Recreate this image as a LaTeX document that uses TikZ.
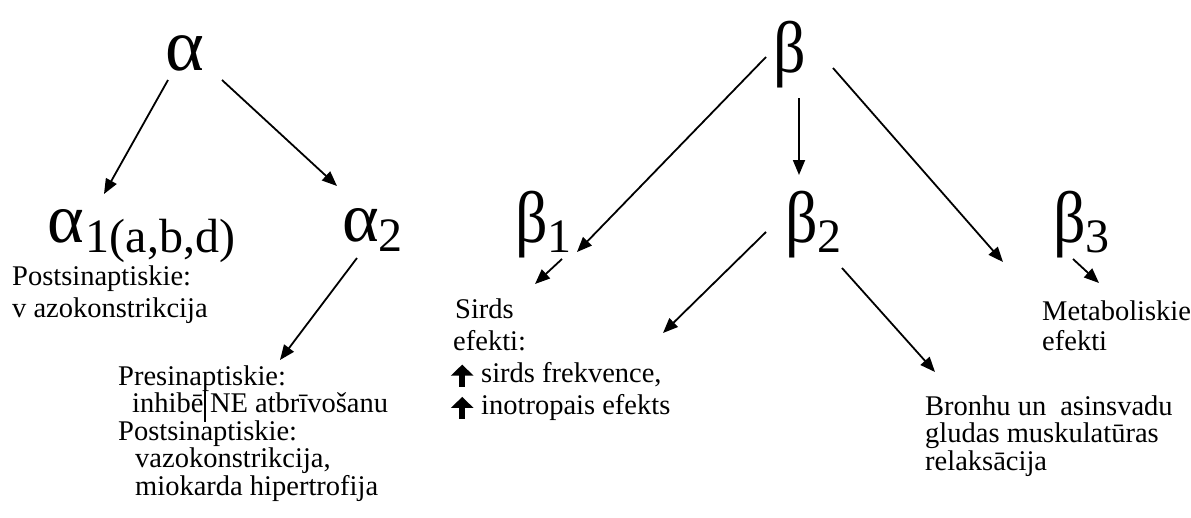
\documentclass[tikz,border=0pt]{standalone}
\usepackage{fontspec}
\setmainfont{Liberation Serif}
\usetikzlibrary{arrows.meta}
\newcommand{\upglyph}{\tikz[baseline=0pt,x=1pt,y=1pt]\draw[line width=6pt,-{Triangle[length=11pt,width=22pt]}] (0,-4)--(0,18);}
\newcommand{\grsub}[1]{\raisebox{-10pt}{\fontsize{48}{48}\selectfont #1}}
\newcommand{\tallb}{\scalebox{1}[1.14]{β}}
\newcommand{\Lines}[2]{\vtop{\baselineskip=#1\lineskiplimit=-100pt\relax\halign{##\hfil\cr#2\crcr}}}
\begin{document}
\begin{tikzpicture}[x=1pt,y=-1pt,
  greek/.style={anchor=base west,inner sep=0pt,font=\fontsize{64}{64}\selectfont},
  greeka/.style={anchor=base west,inner sep=0pt,font=\fontsize{70}{70}\selectfont},
  txt/.style={anchor=base west,inner sep=0pt,font=\fontsize{28.5}{32}\selectfont},
  arr/.style={line width=1.8pt,-{Triangle[length=15pt,width=12pt]}}]
\useasboundingbox (0,0) rectangle (1191,517);
% Greek headers
\node[greeka,font=\fontsize{74}{74}\selectfont] (alpha) at (165,70) {α};
\node[greek] (beta) at (773,72) {\tallb};
\node[greeka] (alpha1) at (47,242) {α\kern2pt\grsub{1(a,b,d)}};
\node[greeka] (alpha2) at (342,241) {α\grsub{2}};
\node[greek] (beta1) at (515,242) {\tallb\grsub{1}};
\node[greek] (beta2) at (785,242) {\tallb\grsub{2}};
\node[greek] (beta3) at (1053,242) {\tallb\grsub{3}};
% text blocks
\node[txt] (postA) at (12,285) {\Lines{32pt}{Postsinaptiskie:\cr v azokonstrikcija}};
\node[txt] (presB) at (118,385) {\Lines{27.5pt}{Presinaptiskie:\cr
  \kern14pt inhibē\kern1pt\rule[-9pt]{1.6pt}{31pt}\kern4pt NE atbrīvošanu\cr
  Postsinaptiskie:\cr
  \kern17pt vazokonstrikcija,\cr
  \kern17pt miokarda hipertrofija}};
\node[txt] (sirds) at (451,318) {\Lines{32.3pt}{\kern4pt Sirds\cr
  \kern2pt efekti:\cr
  \upglyph\kern8pt sirds frekvence,\cr
  \upglyph\kern8pt inotropais efekts}};
\node[txt] (metab) at (1042,320) {\Lines{30pt}{Metaboliskie\cr efekti}};
\node[txt] (bronhu) at (925,415) {\Lines{27.5pt}{Bronhu un\kern14pt asinsvadu\cr gludas muskulatūras\cr relaksācija}};
% connector end points
\coordinate (a-l) at (168,80);   \coordinate (a1-in) at (104,194);
\coordinate (a-r) at (222,80);   \coordinate (a2-in) at (337,186);
\coordinate (b-l) at (766,57);   \coordinate (b1-in) at (577,252);
\coordinate (b-m) at (799,98);   \coordinate (b2-in) at (799,175);
\coordinate (b-r) at (833,68);   \coordinate (b3-in) at (1003,262);
\coordinate (b1-o) at (562,259); \coordinate (sirds-in1) at (535,284);
\coordinate (b2-ol) at (766,232);\coordinate (sirds-in2) at (663,333);
\coordinate (b2-or) at (842,268);\coordinate (bronhu-in) at (935,372);
\coordinate (b3-o) at (1073,259);\coordinate (metab-in) at (1099,283);
\coordinate (a2-o) at (357,258); \coordinate (presB-in) at (280,360);
\draw[arr] (a-l) -- (a1-in);
\draw[arr] (a-r) -- (a2-in);
\draw[arr] (b-l) -- (b1-in);
\draw[arr] (b-m) -- (b2-in);
\draw[arr] (b-r) -- (b3-in);
\draw[arr] (b1-o) -- (sirds-in1);
\draw[arr] (b2-ol) -- (sirds-in2);
\draw[arr] (b2-or) -- (bronhu-in);
\draw[arr] (b3-o) -- (metab-in);
\draw[arr] (a2-o) -- (presB-in);
\end{tikzpicture}
\end{document}
